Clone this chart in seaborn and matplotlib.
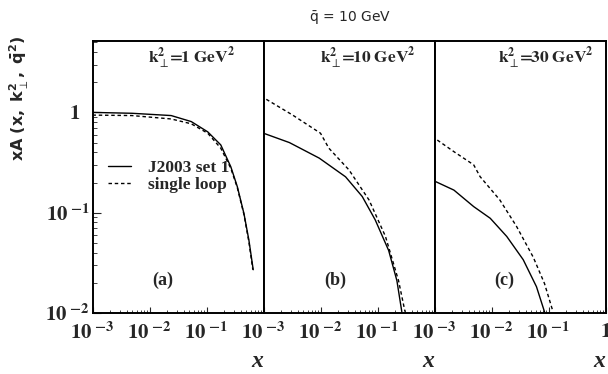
import matplotlib
matplotlib.use("Agg")
import numpy as np
import pandas as pd
import seaborn as sns
import matplotlib.pyplot as plt
from matplotlib.ticker import LogLocator, NullFormatter
from matplotlib.transforms import ScaledTranslation

# ---------------- data ----------------
panel_names = ["(a)", "(b)", "(c)"]
kt_values = ["1", "10", "30"]
series_names = ["J2003 set 1", "single loop"]

a_solid_x = [1e-3, 4.9e-3, 0.024, 0.054, 0.105, 0.178, 0.267, 0.347, 0.454, 0.555, 0.66]
a_solid_y = [1.00, 0.98, 0.93, 0.81, 0.64, 0.474, 0.287, 0.182, 0.098, 0.053, 0.027]
a_dash_x = [1e-3, 4.9e-3, 0.024, 0.054, 0.105, 0.178, 0.267, 0.347, 0.454, 0.555, 0.65]
a_dash_y = [0.94, 0.93, 0.86, 0.77, 0.62, 0.44, 0.277, 0.178, 0.096, 0.051, 0.027]

b_solid_x = [1e-3, 2.85e-3, 9.5e-3, 0.0275, 0.054, 0.091, 0.157, 0.219, 0.267]
b_solid_y = [0.62, 0.50, 0.35, 0.228, 0.145, 0.085, 0.042, 0.021, 0.0103]
b_dash_x = [1.12e-3, 3.25e-3, 0.01, 0.014, 0.0316, 0.071, 0.138, 0.234, 0.304]
b_dash_y = [1.35, 0.94, 0.62, 0.44, 0.267, 0.134, 0.058, 0.021, 0.0103]

c_solid_x = [1.05e-3, 2.19e-3, 4.87e-3, 9.5e-3, 0.0185, 0.036, 0.0615, 0.085]
c_solid_y = [0.204, 0.168, 0.115, 0.088, 0.058, 0.034, 0.0183, 0.0103]
c_dash_x = [1.12e-3, 2.19e-3, 4.87e-3, 6.3e-3, 0.014, 0.0275, 0.054, 0.085, 0.12]
c_dash_y = [0.53, 0.406, 0.30, 0.229, 0.134, 0.073, 0.036, 0.0197, 0.0103]

solid_x = [a_solid_x, b_solid_x, c_solid_x]
solid_y = [a_solid_y, b_solid_y, c_solid_y]
dash_x = [a_dash_x, b_dash_x, c_dash_x]
dash_y = [a_dash_y, b_dash_y, c_dash_y]

x_ticks = [1e-3, 1e-2, 1e-1]
x_tick_labels = [r"$\mathbf{10}^{\ \mathbf{-3}}$", r"$\mathbf{10}^{\ \mathbf{-2}}$", r"$\mathbf{10}^{\ \mathbf{-1}}$"]
y_ticks = [1e-2, 1e-1, 1]
y_tick_labels = [r"$\mathbf{10}^{\ \mathbf{-2}}$", r"$\mathbf{10}^{\ \mathbf{-1}}$", r"$\mathbf{1}$"]

# ---------------- style ----------------
sns.set_style("ticks")
plt.rcParams['font.family'] = ['Liberation Serif', 'DejaVu Sans']
plt.rcParams['mathtext.fontset'] = 'stix'

fig = plt.figure(figsize=(6.08, 3.74), dpi=100)
W, H = 608.0, 374.0
left0, pw = 92.5, 171.0
top_px, bot_px = 41.0, 313.0

axes = []
for i in range(3):
    ax = fig.add_axes([(left0 + i * pw) / W, (H - bot_px) / H, pw / W, (bot_px - top_px) / H])
    axes.append(ax)

for i, ax in enumerate(axes):
    d1 = pd.DataFrame({"x": solid_x[i], "y": solid_y[i]})
    d2 = pd.DataFrame({"x": dash_x[i], "y": dash_y[i]})
    sns.lineplot(data=d1, x="x", y="y", ax=ax, color="black", lw=1.0,
                 estimator=None, sort=False, label=series_names[0] if i == 0 else None)
    sns.lineplot(data=d2, x="x", y="y", ax=ax, color="black", lw=1.0,
                 estimator=None, sort=False, label=series_names[1] if i == 0 else None)
    ax.lines[1].set_dashes([2.5, 2.0])
    ax.set_xscale("log")
    ax.set_yscale("log")
    ax.set_xlim(1e-3, 1)
    ax.set_ylim(1e-2, 5.15)
    ax.set_xlabel("")
    ax.set_ylabel("")
    for sp in ax.spines.values():
        sp.set_visible(True)
        sp.set_linewidth(1.4)
        sp.set_color("black")
    ax.xaxis.set_minor_locator(LogLocator(base=10, subs=np.arange(2, 10)))
    ax.xaxis.set_minor_formatter(NullFormatter())
    if i < 2:
        ax.set_xticks(x_ticks, labels=x_tick_labels)
    else:
        ax.set_xticks(x_ticks + [1], labels=x_tick_labels + [r"$\mathbf{1}$"])
    ax.tick_params(axis="x", which="major", direction="in", length=4, width=0.8,
                   pad=7, labelsize=15, bottom=True, top=False)
    ax.tick_params(axis="x", which="minor", direction="in", length=2.2, width=0.6,
                   bottom=True, top=False)
    if i == 0:
        ax.yaxis.set_minor_locator(LogLocator(base=10, subs=np.arange(2, 10)))
        ax.yaxis.set_minor_formatter(NullFormatter())
        ax.set_yticks(y_ticks, labels=y_tick_labels)
        ax.tick_params(axis="y", which="major", direction="in", length=6, width=0.8,
                       pad=2, labelsize=15, left=True, right=False)
        ax.tick_params(axis="y", which="minor", direction="in", length=3, width=0.6,
                       left=True, right=False)
        one_lab = ax.get_yticklabels()[2]
        one_lab.set_transform(one_lab.get_transform() +
                              ScaledTranslation(-10 / 100, 0, fig.dpi_scale_trans))
    else:
        ax.set_yticks([])
        ax.yaxis.set_minor_locator(matplotlib.ticker.NullLocator())
        ax.tick_params(axis="y", which="both", left=False, right=False, labelleft=False)
    ax.text(0.41 if i != 1 else 0.42, 0.12, panel_names[i], transform=ax.transAxes,
            ha="center", va="center", fontsize=13, fontweight="bold")
    kx = [0.58, 0.61, 0.65][i]
    ktxt = (r"$\mathbf{k}_{\perp}^{\mathbf{2}}\!\!\mathbf{=}\!\!\mathbf{" + kt_values[i] +
            r"\ GeV}^{\mathbf{2}}$")
    ax.text(kx, 0.935, ktxt, transform=ax.transAxes, ha="center", va="center",
            fontsize=12.5)
    ax.text(1.0, -0.18, "x", transform=ax.transAxes, ha="right", va="center",
            fontsize=17, fontweight="bold", fontstyle="italic")

leg = axes[0].legend(loc="upper left", bbox_to_anchor=(0.0, 0.62), frameon=False,
                     handlelength=1.3, handletextpad=1.0, labelspacing=0.05,
                     prop={"weight": "bold", "size": 12.5, "family": "Liberation Serif"})

fig.text(0.032, 0.738,
         r"$\mathbf{xA\ (x,\ k}_{\perp}^{\mathbf{2}}\mathbf{,\ \bar{q}^{2})}$",
         rotation=90, ha="center", va="center", fontsize=11.5, math_fontfamily="dejavusans")
fig.text(350 / W, 1 - 18 / H, r"$\bar{\mathrm{q}}$ = 10 GeV", ha="center", va="center",
         fontsize=10, family="DejaVu Sans", math_fontfamily="dejavusans")

fig.savefig("out.png", dpi=100)
